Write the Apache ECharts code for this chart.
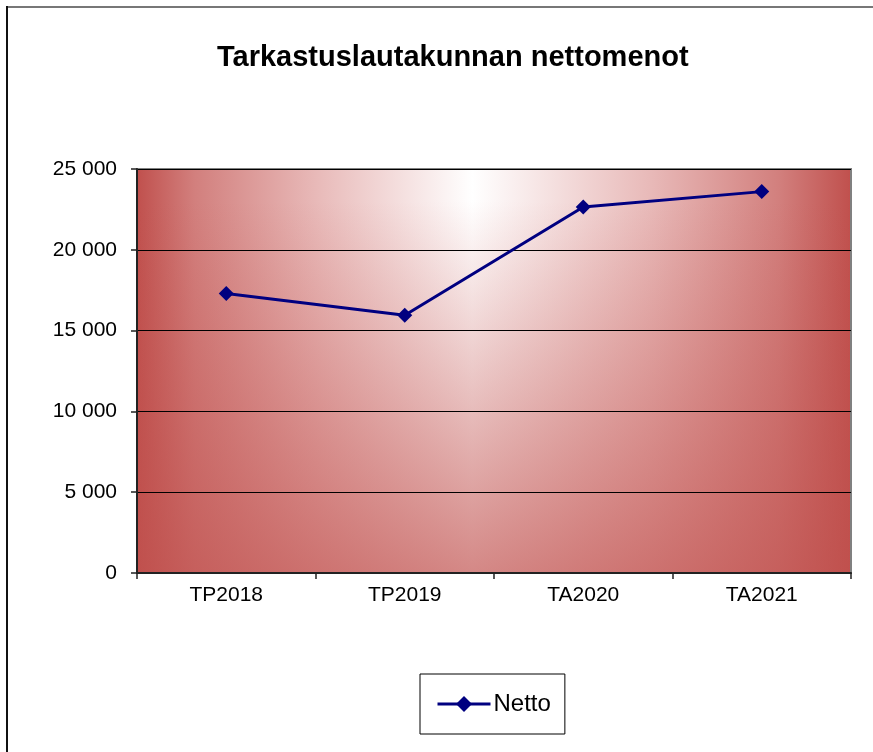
<!DOCTYPE html>
<html>
<head>
<meta charset="utf-8">
<script src="https://cdn.jsdelivr.net/npm/echarts@6/dist/echarts.min.js"></script>
<style>
  html, body { margin: 0; padding: 0; background: #fff; }
  #main { width: 873px; height: 752px; }
</style>
</head>
<body>
<div id="main"></div>
<script>
var categories = ['TP2018', 'TP2019', 'TA2020', 'TA2021'];
var nettoValues = [17300, 15950, 22650, 23600];
var yTicks = [0, 5000, 10000, 15000, 20000, 25000];

// plot area in pixels
var gl = 137, gt = 169, gw = 714, gh = 404;

var myChart = echarts.init(document.getElementById('main'));
var option = {
    animation: false,
    title: {
        text: 'Tarkastuslautakunnan nettomenot',
        left: 212,
        top: 38,
        textStyle: {
            fontFamily: 'Liberation Sans, Arial, sans-serif',
            fontSize: 29,
            fontWeight: 'bold',
            color: '#000'
        }
    },
    legend: {
        left: 420,
        top: 674,
        padding: [18, 14, 18, 16],
        borderColor: '#000',
        borderWidth: 1,
        itemWidth: 53,
        itemHeight: 20,
        itemGap: 5,
        lineStyle: { width: 3 },
        textStyle: {
            fontFamily: 'Liberation Sans, Arial, sans-serif',
            fontSize: 24,
            color: '#000',
            padding: [0, 0, 0, -2]
        },
        data: ['Netto']
    },
    graphic: [
        // outer chart frame
        { type: 'line', z: -5, shape: { x1: 7, y1: 7, x2: 873, y2: 7 }, style: { stroke: '#777', lineWidth: 2 } },
        { type: 'line', z: -5, shape: { x1: 7, y1: 6, x2: 7, y2: 752 }, style: { stroke: '#111', lineWidth: 2 } },
        // plot background, horizontal part
        {
            type: 'rect', z: -3, silent: true,
            shape: { x: gl, y: gt, width: gw, height: gh },
            style: {
                fill: new echarts.graphic.LinearGradient(0, 0, 1, 0, [
                    { offset: 0, color: '#c0504d' },
                    { offset: 0.08, color: '#d27f7d' },
                    { offset: 0.25, color: '#e8b9b8' },
                    { offset: 0.47, color: '#ffffff' },
                    { offset: 0.72, color: '#e8b9b8' },
                    { offset: 0.9, color: '#d27f7d' },
                    { offset: 1, color: '#c0504d' }
                ])
            }
        },
        // plot background, vertical overlay
        {
            type: 'rect', z: -2, silent: true,
            shape: { x: gl, y: gt, width: gw, height: gh },
            style: {
                fill: new echarts.graphic.LinearGradient(0, 0, 0, 1, [
                    { offset: 0, color: 'rgba(192,80,77,0)' },
                    { offset: 0.08, color: 'rgba(192,80,77,0)' },
                    { offset: 1, color: 'rgba(192,80,77,0.68)' }
                ])
            }
        }
    ],
    grid: {
        left: gl,
        top: gt,
        width: gw,
        height: gh,
        show: true,
        backgroundColor: 'transparent',
        borderColor: '#808080',
        borderWidth: 2
    },
    xAxis: {
        type: 'category',
        data: categories,
        boundaryGap: true,
        axisLine: { lineStyle: { color: '#222', width: 2 } },
        axisTick: { show: true, length: 6, lineStyle: { color: '#222', width: 1.5 } },
        axisLabel: {
            margin: 12,
            fontFamily: 'Liberation Sans, Arial, sans-serif',
            fontSize: 21,
            color: '#000'
        },
        splitLine: { show: false }
    },
    yAxis: {
        type: 'value',
        min: yTicks[0],
        max: yTicks[yTicks.length - 1],
        interval: 5000,
        axisLine: { show: true, lineStyle: { color: '#222', width: 2 } },
        axisTick: { show: true, length: 6, lineStyle: { color: '#222', width: 1.5 } },
        axisLabel: {
            margin: 20,
            fontFamily: 'Liberation Sans, Arial, sans-serif',
            fontSize: 21,
            color: '#000',
            formatter: function (v) {
                return String(v).replace(/\B(?=(\d{3})+(?!\d))/g, ' ');
            }
        },
        splitLine: { show: true, lineStyle: { color: '#000', width: 1 } }
    },
    series: [
        {
            name: 'Netto',
            type: 'line',
            symbol: 'diamond',
            symbolSize: 15,
            lineStyle: { color: '#000080', width: 3 },
            itemStyle: { color: '#000080' },
            data: nettoValues
        }
    ]
};
myChart.setOption(option);
</script>
</body>
</html>
